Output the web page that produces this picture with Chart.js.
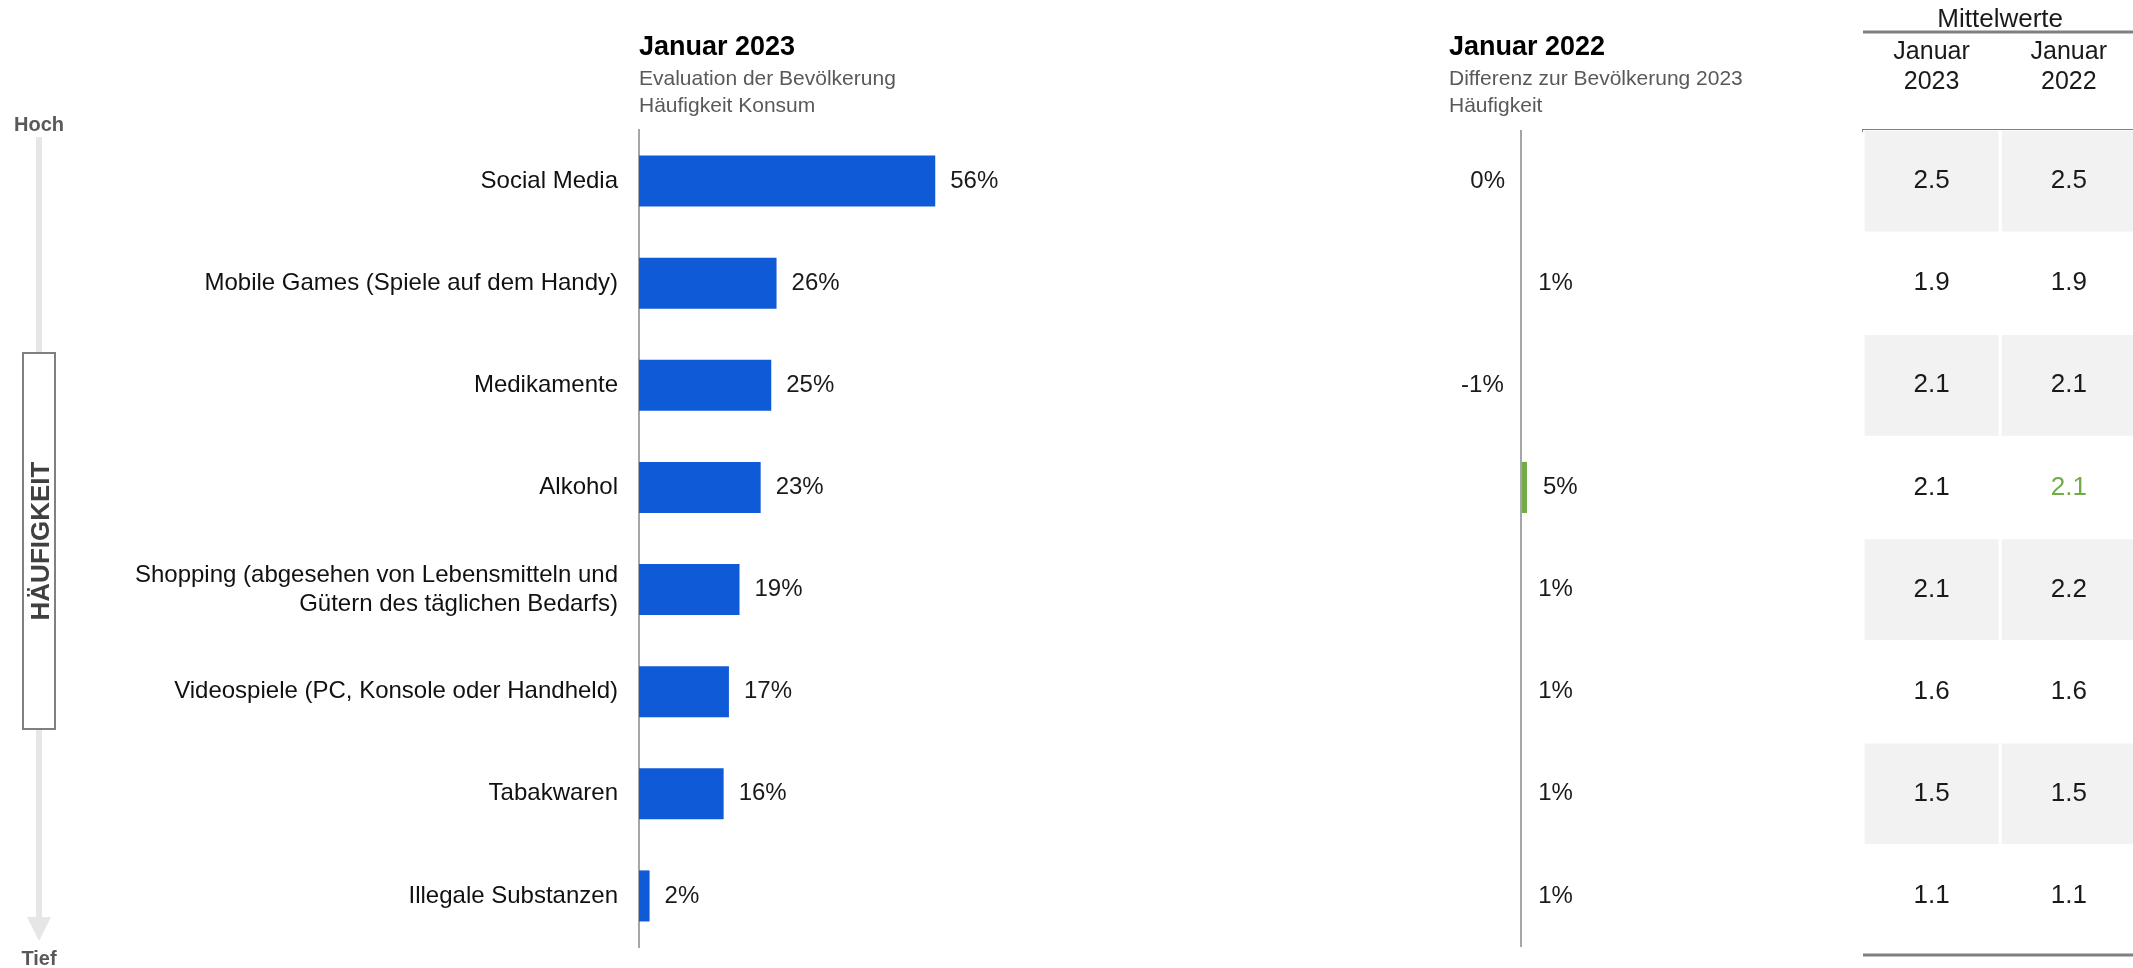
<!DOCTYPE html>
<html lang="de">
<head>
  <meta charset="UTF-8">
  <meta name="viewport" content="width=device-width, initial-scale=1.0">
  <title>Häufigkeit Konsum</title>
  <style>
    html, body { margin: 0; padding: 0; background: #fff; overflow: hidden; }
    #wrap { position: relative; width: 2133px; height: 968px; overflow: hidden; }
    #wrap canvas { position: absolute; top: 0; }
  </style>
</head>
<body>
  <div id="wrap">
    <canvas id="shareChart" width="1300" height="968" style="left:0"></canvas>
    <canvas id="diffChart" width="520" height="968" style="left:1300px"></canvas>
    <canvas id="meanChart" width="340" height="968" style="left:1800px"></canvas>
  </div>

  <script src="https://cdn.jsdelivr.net/npm/chart.js"></script>
  <script>
    const categories = [
      'Social Media',
      'Mobile Games (Spiele auf dem Handy)',
      'Medikamente',
      'Alkohol',
      ['Shopping (abgesehen von Lebensmitteln und', 'Gütern des täglichen Bedarfs)'],
      'Videospiele (PC, Konsole oder Handheld)',
      'Tabakwaren',
      'Illegale Substanzen'
    ];
    const share2023 = [56, 26, 25, 23, 19, 17, 16, 2];
    const diff2022 = [0, 1, -1, 5, 1, 1, 1, 1];
    const significant = [false, false, false, true, false, false, false, false];
    const mean2023 = [2.5, 1.9, 2.1, 2.1, 2.1, 1.6, 1.5, 1.1];
    const mean2022 = [2.5, 1.9, 2.1, 2.1, 2.2, 1.6, 1.5, 1.1];
    const meanColumns = [['Januar', '2023'], ['Januar', '2022']];

    const FONT = '"Liberation Sans", Arial, sans-serif';
    const TOP = 130, BOTTOM_PAD = 21;
    const GREEN = '#70ad47';
    Chart.defaults.font.family = FONT;
    Chart.defaults.color = '#1a1a1a';

    // block title + grey subtitle lines, left aligned on the plot area
    const header = {
      id: 'header',
      afterDraw(chart, args, opts) {
        const { ctx, chartArea } = chart;
        ctx.save();
        ctx.textAlign = 'left';
        ctx.textBaseline = 'middle';
        ctx.fillStyle = '#000';
        ctx.font = 'bold 27px ' + FONT;
        ctx.fillText(opts.title, chartArea.left, 48);
        ctx.fillStyle = '#595959';
        ctx.font = '21px ' + FONT;
        opts.lines.forEach((t, i) => ctx.fillText(t, chartArea.left, 79 + i * 27));
        ctx.restore();
      }
    };

    // percentage text next to the end of each bar
    const valueLabels = {
      id: 'valueLabels',
      afterDatasetsDraw(chart, args, opts) {
        const { ctx } = chart;
        const values = chart.data.datasets[0].data;
        ctx.save();
        ctx.font = '24px ' + FONT;
        ctx.fillStyle = '#1a1a1a';
        ctx.textBaseline = 'middle';
        chart.getDatasetMeta(0).data.forEach((bar, i) => {
          const v = values[i];
          if (v > 0) {
            ctx.textAlign = 'left';
            ctx.fillText(v + '%', bar.x + opts.gap, bar.y);
          } else {
            ctx.textAlign = 'right';
            ctx.fillText(v + '%', bar.x - opts.gap, bar.y);
          }
        });
        ctx.restore();
      }
    };

    // "Hoch" -> "Tief" arrow with the rotated HÄUFIGKEIT box
    const scaleArrow = {
      id: 'scaleArrow',
      beforeDatasetsDraw(chart) {
        const { ctx, chartArea: { top, bottom } } = chart;
        const x = 39;
        ctx.save();
        ctx.strokeStyle = '#e6e6e6';
        ctx.fillStyle = '#e6e6e6';
        ctx.lineWidth = 6;
        ctx.beginPath();
        ctx.moveTo(x, top + 7);
        ctx.lineTo(x, bottom - 28);
        ctx.stroke();
        ctx.beginPath();
        ctx.moveTo(x - 12, bottom - 30);
        ctx.lineTo(x + 12, bottom - 30);
        ctx.lineTo(x, bottom - 6);
        ctx.closePath();
        ctx.fill();

        ctx.fillStyle = '#fff';
        ctx.fillRect(22, 352, 34, 378);
        ctx.strokeStyle = '#808080';
        ctx.lineWidth = 2;
        ctx.strokeRect(23, 353, 32, 376);

        ctx.fillStyle = '#595959';
        ctx.font = 'bold 20px ' + FONT;
        ctx.textAlign = 'center';
        ctx.textBaseline = 'middle';
        ctx.fillText('Hoch', x, top - 5);
        ctx.fillText('Tief', x, bottom + 12);

        ctx.translate(x + 2, 541);
        ctx.rotate(-Math.PI / 2);
        ctx.fillStyle = '#404040';
        ctx.font = 'bold 26px ' + FONT;
        ctx.fillText('HÄUFIGKEIT', 0, 1);
        ctx.restore();
      }
    };

    // cell values, group heading and closing rule of the means table
    const meanTable = {
      id: 'meanTable',
      afterDatasetsDraw(chart) {
        const { ctx, chartArea, scales: { x } } = chart;
        const columns = [mean2023, mean2022];
        ctx.save();
        ctx.textAlign = 'center';
        ctx.textBaseline = 'middle';
        ctx.font = '26px ' + FONT;
        columns.forEach((vals, d) => {
          chart.getDatasetMeta(d).data.forEach((cell, i) => {
            ctx.fillStyle = (d === 1 && significant[i]) ? GREEN : '#1a1a1a';
            ctx.fillText(vals[i].toFixed(1), (cell.x + cell.base) / 2, cell.y);
          });
        });
        ctx.fillStyle = '#1a1a1a';
        ctx.font = '26px ' + FONT;
        ctx.fillText('Mittelwerte', x.getPixelForValue(1), 20);
        ctx.strokeStyle = '#808080';
        ctx.lineWidth = 3;
        ctx.beginPath();
        ctx.moveTo(chartArea.left, 32);
        ctx.lineTo(chartArea.right, 32);
        ctx.moveTo(chartArea.left, chartArea.bottom + 8);
        ctx.lineTo(chartArea.right, chartArea.bottom + 8);
        ctx.stroke();
        ctx.restore();
      }
    };

    const common = {
      responsive: false,
      animation: false,
      indexAxis: 'y',
      events: [],
      plugins: { legend: { display: false }, tooltip: { enabled: false } }
    };

    new Chart(document.getElementById('shareChart'), {
      type: 'bar',
      data: {
        labels: categories,
        datasets: [{
          data: share2023,
          backgroundColor: '#0f5ad6',
          barPercentage: 0.5,
          categoryPercentage: 1
        }]
      },
      options: {
        ...common,
        layout: { padding: { top: TOP, bottom: BOTTOM_PAD, left: 0, right: 132 } },
        scales: {
          x: { min: 0, max: 100, display: false },
          y: {
            grid: { display: false, drawTicks: false },
            border: { display: true, color: '#a6a6a6', width: 2 },
            ticks: { font: { size: 24, lineHeight: 1.2 }, color: '#111', padding: 21 },
            afterFit: (scale) => {
              scale.width = 639;
              scale.paddingTop = 0;
              scale.paddingBottom = 0;
            }
          }
        },
        plugins: {
          ...common.plugins,
          header: { title: 'Januar 2023', lines: ['Evaluation der Bevölkerung', 'Häufigkeit Konsum'] },
          valueLabels: { gap: 15 }
        }
      },
      plugins: [header, valueLabels, scaleArrow]
    });

    new Chart(document.getElementById('diffChart'), {
      type: 'bar',
      data: {
        labels: categories,
        datasets: [{
          data: diff2022,
          backgroundColor: significant.map(s => s ? GREEN : 'rgba(0,0,0,0)'),
          barPercentage: 0.5,
          categoryPercentage: 1
        }]
      },
      options: {
        ...common,
        layout: { padding: { top: TOP, bottom: BOTTOM_PAD, left: 149, right: 227 } },
        scales: {
          x: {
            min: -60,
            max: 60,
            afterBuildTicks: (scale) => { scale.ticks = [{ value: 0 }]; },
            ticks: { display: false },
            grid: { color: '#a6a6a6', lineWidth: 2, drawTicks: false },
            border: { display: false }
          },
          y: { display: false }
        },
        plugins: {
          ...common.plugins,
          header: { title: 'Januar 2022', lines: ['Differenz zur Bevölkerung 2023', 'Häufigkeit'] },
          valueLabels: { gap: 16 }
        }
      },
      plugins: [header, valueLabels]
    });

    const cellStyle = {
      barPercentage: 1,
      categoryPercentage: 1,
      grouped: false,
      backgroundColor: categories.map((_, i) => i % 2 ? 'rgba(0,0,0,0)' : '#f2f2f2'),
      borderColor: '#fff',
      borderWidth: { left: 2, right: 2, top: 1, bottom: 1 },
      borderSkipped: false
    };

    new Chart(document.getElementById('meanChart'), {
      type: 'bar',
      data: {
        labels: categories,
        datasets: [
          { ...cellStyle, data: mean2023.map(() => [0, 1]) },
          { ...cellStyle, data: mean2022.map(() => [1, 2]) }
        ]
      },
      options: {
        ...common,
        layout: { padding: { top: 0, bottom: BOTTOM_PAD, left: 63, right: 0 } },
        scales: {
          x: {
            type: 'linear',
            position: 'top',
            min: 0,
            max: 2,
            afterBuildTicks: (scale) => { scale.ticks = [{ value: 0.5 }, { value: 1.5 }]; },
            afterFit: (scale) => { scale.height = TOP; },
            grid: { display: false, drawTicks: false },
            border: { display: true, color: '#808080', width: 3 },
            ticks: {
              font: { size: 25, lineHeight: 1.2 },
              color: '#1a1a1a',
              padding: 33,
              maxRotation: 0,
              callback: (v, i) => meanColumns[i]
            }
          },
          y: { display: false }
        }
      },
      plugins: [meanTable]
    });
  </script>
</body>
</html>
